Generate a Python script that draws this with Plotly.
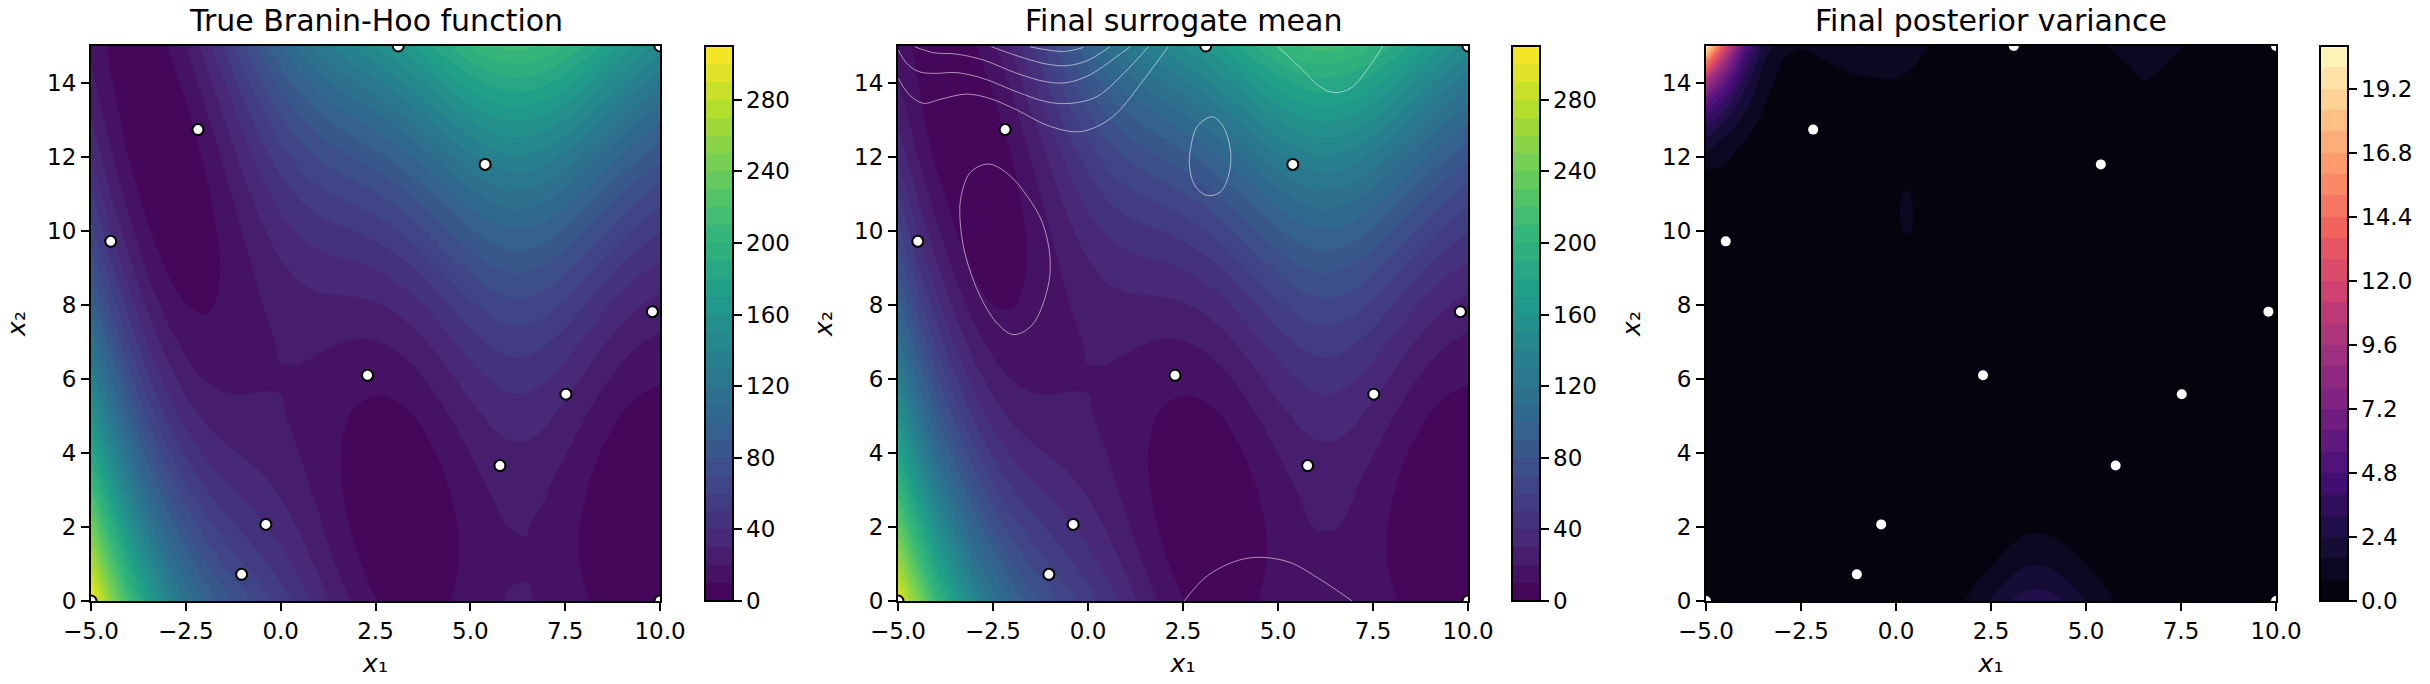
import numpy as np
import plotly.graph_objects as go

FONT = "DejaVu Sans"
W, H = 2430, 684

# grid of the two function panels, one list per x1 column
X1 = [-5, -4.5, -4, -3.5, -3, -2.5, -2, -1.5, -1, -0.5, 0, 0.5, 1, 1.5, 2, 2.5, 3, 3.5, 4, 4.5, 5, 5.5, 6, 6.5, 7, 7.5, 8, 8.5, 9, 9.5, 10]
X2 = [0, 1, 2, 3, 4, 5, 6, 7, 8, 9, 10, 11, 12, 13, 14, 15]

TRUE_COLS = [
    [308.1, 274.7, 243.4, 214.0, 186.6, 161.2, 137.9, 116.5, 97.1, 79.8, 64.4, 51.0, 39.6, 30.3, 22.9, 17.5],
    [256.9, 226.4, 197.8, 171.3, 146.7, 124.1, 103.6, 85.0, 68.5, 53.9, 41.4, 30.8, 22.2, 15.7, 11.1, 8.6],
    [212.0, 184.2, 158.3, 134.4, 112.6, 92.7, 74.8, 59.0, 45.1, 33.2, 23.4, 15.5, 9.6, 5.8, 3.9, 4.0],
    [174.0, 148.7, 125.4, 104.1, 84.8, 67.5, 52.2, 38.9, 27.6, 18.2, 10.9, 5.6, 2.3, 1.0, 1.7, 4.4],
    [143.0, 120.1, 99.2, 80.4, 63.5, 48.6, 35.7, 24.9, 16.0, 9.1, 4.2, 1.4, 0.5, 1.6, 4.8, 9.9],
    [118.6, 98.1, 79.5, 62.9, 48.4, 35.8, 25.2, 16.6, 10.1, 5.5, 2.9, 2.4, 3.8, 7.2, 12.6, 20.1],
    [100.1, 81.7, 65.3, 50.9, 38.5, 28.1, 19.7, 13.3, 8.9, 6.5, 6.1, 7.7, 11.3, 16.9, 24.5, 34.1],
    [86.0, 69.6, 55.3, 42.9, 32.6, 24.2, 17.8, 13.5, 11.1, 10.8, 12.4, 16.1, 21.7, 29.4, 39.0, 50.6],
    [74.8, 60.4, 47.9, 37.5, 29.0, 22.6, 18.1, 15.7, 15.3, 16.8, 20.4, 25.9, 33.5, 43.0, 54.6, 68.2],
    [65.0, 52.4, 41.7, 33.1, 26.4, 21.8, 19.1, 18.5, 19.8, 23.1, 28.5, 35.8, 45.2, 56.5, 69.9, 85.2],
    [55.6, 44.6, 35.6, 28.6, 23.6, 20.6, 19.6, 20.6, 23.6, 28.6, 35.6, 44.6, 55.6, 68.6, 83.6, 100.6],
    [45.8, 36.4, 28.9, 23.4, 20.0, 18.5, 19.0, 21.5, 26.1, 32.6, 41.1, 51.7, 64.2, 78.7, 95.2, 113.8],
    [35.8, 27.7, 21.6, 17.6, 15.5, 15.4, 17.3, 21.2, 27.2, 35.1, 45.0, 57.0, 70.9, 86.8, 104.7, 124.6],
    [25.9, 19.1, 14.3, 11.5, 10.7, 11.9, 15.1, 20.3, 27.5, 36.6, 47.8, 61.0, 76.2, 93.4, 112.6, 133.8],
    [17.1, 11.5, 7.8, 6.1, 6.4, 8.8, 13.1, 19.4, 27.8, 38.1, 50.4, 64.8, 81.1, 99.4, 119.8, 142.1],
    [10.3, 5.6, 3.0, 2.3, 3.7, 7.0, 12.4, 19.7, 29.1, 40.4, 53.7, 69.1, 86.4, 105.8, 127.1, 150.5],
    [6.2, 2.4, 0.6, 0.9, 3.1, 7.3, 13.5, 21.8, 32.0, 44.2, 58.4, 74.7, 92.9, 113.1, 135.3, 159.6],
    [5.1, 2.0, 1.0, 2.0, 5.0, 9.9, 16.9, 25.9, 36.9, 49.8, 64.8, 81.8, 100.7, 121.7, 144.7, 169.7],
    [6.6, 4.2, 3.8, 5.4, 9.0, 14.6, 22.2, 31.8, 43.4, 57.0, 72.6, 90.2, 109.8, 131.4, 155.0, 180.6],
    [10.1, 8.2, 8.3, 10.4, 14.5, 20.5, 28.6, 38.7, 50.8, 64.9, 81.0, 99.1, 119.2, 141.3, 165.4, 191.5],
    [14.3, 12.8, 13.3, 15.7, 20.2, 26.6, 35.1, 45.5, 58.0, 72.4, 88.9, 107.3, 127.8, 150.2, 174.7, 201.1],
    [18.1, 16.8, 17.5, 20.2, 24.9, 31.6, 40.3, 51.0, 63.7, 78.4, 95.1, 113.7, 134.4, 157.1, 181.8, 208.5],
    [20.4, 19.2, 20.0, 22.8, 27.6, 34.4, 43.2, 54.0, 66.8, 81.6, 98.4, 117.2, 138.0, 160.8, 185.6, 212.4],
    [20.6, 19.4, 20.2, 22.9, 27.7, 34.5, 43.3, 54.0, 66.8, 81.6, 98.4, 117.1, 137.9, 160.7, 185.5, 212.2],
    [18.6, 17.3, 17.9, 20.5, 25.1, 31.8, 40.4, 51.0, 63.6, 78.2, 94.9, 113.5, 134.1, 156.7, 181.4, 208.0],
    [15.1, 13.4, 13.8, 16.1, 20.5, 26.8, 35.1, 45.5, 57.8, 72.2, 88.5, 106.9, 127.2, 149.5, 173.9, 200.2],
    [11.0, 8.9, 8.8, 10.7, 14.7, 20.6, 28.5, 38.5, 50.4, 64.3, 80.3, 98.2, 118.1, 140.0, 164.0, 189.9],
    [7.5, 4.9, 4.3, 5.6, 9.0, 14.4, 21.8, 31.2, 42.6, 56.0, 71.4, 88.7, 108.1, 129.5, 152.9, 178.3],
    [5.8, 2.6, 1.3, 2.0, 4.7, 9.4, 16.2, 24.9, 35.6, 48.3, 63.0, 79.7, 98.5, 119.2, 141.9, 166.6],
    [6.9, 2.8, 0.7, 0.6, 2.6, 6.5, 12.4, 20.3, 30.2, 42.2, 56.1, 72.0, 89.9, 109.8, 131.7, 155.7],
    [11.0, 6.0, 2.9, 1.9, 2.9, 5.9, 10.9, 17.9, 26.9, 37.9, 50.9, 65.9, 82.9, 101.9, 122.8, 145.8],
]

MEAN_COLS = [
    [298.0, 264.0, 234.0, 206.0, 180.0, 156.0, 133.0, 113.0, 94.5, 78.0, 63.5, 50.0, 38.0, 28.0, 20.0, 15.0],
    [251.0, 221.0, 193.0, 167.0, 143.0, 121.0, 101.0, 83.0, 66.5, 52.5, 40.0, 29.5, 20.5, 14.0, 10.5, 8.0],
    [207.0, 179.0, 154.0, 131.0, 109.0, 90.0, 73.0, 58.0, 44.0, 32.5, 22.5, 14.5, 8.0, 4.5, 3.0, 3.2],
    [173.0, 148.0, 125.0, 104.0, 84.5, 67.0, 52.0, 38.5, 27.0, 17.8, 10.5, 5.3, 2.2, 0.9, 1.5, 3.8],
    [142.0, 119.0, 98.5, 80.0, 63.0, 48.0, 35.5, 24.5, 15.5, 8.5, 3.8, 1.0, 0.5, 1.2, 4.0, 8.5],
    [118.0, 97.8, 79.3, 62.8, 48.2, 35.7, 25.0, 16.6, 10.0, 5.6, 2.7, 2.1, 3.3, 6.5, 11.5, 18.0],
    [99.5, 81.5, 65.0, 51.0, 38.5, 28.0, 19.7, 13.5, 9.6, 7.2, 5.5, 6.5, 10.0, 15.0, 22.0, 31.0],
    [85.8, 69.3, 55.3, 42.9, 32.6, 24.2, 17.8, 13.5, 11.2, 10.8, 12.0, 15.4, 20.5, 27.7, 37.5, 49.0],
    [74.5, 60.0, 48.0, 37.5, 29.0, 22.6, 18.0, 15.7, 15.3, 16.8, 20.0, 25.0, 32.0, 41.0, 52.5, 66.0],
    [64.7, 52.2, 41.7, 33.1, 26.4, 21.8, 19.1, 18.5, 19.8, 23.0, 28.0, 35.0, 44.0, 55.0, 68.0, 83.5],
    [55.0, 44.3, 35.6, 28.6, 23.6, 20.6, 19.6, 20.6, 23.6, 28.5, 35.5, 44.0, 54.5, 67.0, 82.0, 99.0],
    [45.8, 36.4, 28.9, 23.4, 20.0, 18.5, 19.0, 21.5, 26.1, 32.6, 41.1, 51.7, 64.2, 78.7, 95.2, 113.8],
    [35.8, 27.7, 21.6, 17.6, 15.5, 15.4, 17.3, 21.2, 27.2, 35.1, 45.0, 57.0, 70.9, 86.8, 104.7, 124.6],
    [25.9, 19.1, 14.3, 11.5, 10.7, 11.9, 15.1, 20.3, 27.5, 36.6, 47.8, 61.0, 76.2, 93.4, 112.6, 133.8],
    [17.1, 11.5, 7.8, 6.1, 6.4, 8.8, 13.1, 19.4, 27.8, 38.1, 50.4, 64.8, 81.1, 99.4, 119.8, 142.1],
    [10.3, 5.6, 3.0, 2.3, 3.7, 7.0, 12.4, 19.7, 29.1, 40.4, 53.7, 69.1, 86.4, 105.8, 127.1, 150.5],
    [6.2, 2.4, 0.6, 0.9, 3.1, 7.3, 13.5, 21.8, 32.0, 44.2, 58.4, 74.7, 92.9, 113.1, 135.3, 159.6],
    [5.1, 2.0, 1.0, 2.0, 5.0, 9.9, 16.9, 25.9, 36.9, 49.8, 64.8, 81.8, 100.7, 121.7, 144.7, 169.7],
    [6.6, 4.2, 3.8, 5.4, 9.0, 14.6, 22.2, 31.8, 43.4, 57.0, 72.6, 90.2, 109.8, 131.4, 155.0, 180.6],
    [10.1, 8.2, 8.3, 10.4, 14.5, 20.5, 28.6, 38.7, 50.8, 64.9, 81.0, 99.1, 119.2, 141.3, 165.4, 192.5],
    [14.3, 12.8, 13.3, 15.7, 20.2, 26.6, 35.1, 45.5, 58.0, 72.4, 88.9, 107.3, 127.8, 150.2, 174.7, 203.0],
    [18.1, 16.8, 17.5, 20.2, 24.9, 31.6, 40.3, 51.0, 63.7, 78.4, 95.1, 113.7, 134.4, 157.1, 182.0, 209.5],
    [19.6, 19.0, 20.1, 22.8, 27.6, 34.4, 43.2, 54.0, 66.8, 81.6, 98.4, 117.2, 138.0, 160.8, 186.0, 213.0],
    [19.7, 19.2, 20.1, 22.9, 27.7, 34.5, 43.3, 54.0, 66.8, 81.6, 98.4, 117.1, 137.9, 160.7, 185.5, 213.0],
    [18.6, 17.3, 17.9, 20.5, 25.1, 31.8, 40.4, 51.0, 63.6, 78.2, 94.9, 113.5, 134.1, 156.7, 181.4, 209.0],
    [15.1, 13.4, 13.8, 16.1, 20.5, 26.8, 35.1, 45.5, 57.8, 72.2, 88.5, 106.9, 127.2, 149.5, 173.9, 201.0],
    [11.0, 8.9, 8.8, 10.7, 14.7, 20.6, 28.5, 38.5, 50.4, 64.3, 80.3, 98.2, 118.1, 140.0, 164.0, 189.9],
    [7.5, 4.9, 4.3, 5.6, 9.0, 14.4, 21.8, 31.2, 42.6, 56.0, 71.4, 88.7, 108.1, 129.5, 152.9, 178.3],
    [5.8, 2.6, 1.3, 2.0, 4.7, 9.4, 16.2, 24.9, 35.6, 48.3, 63.0, 79.7, 98.5, 119.2, 141.9, 166.6],
    [6.9, 2.8, 0.7, 0.6, 2.6, 6.5, 12.4, 20.3, 30.2, 42.2, 56.1, 72.0, 89.9, 109.8, 131.7, 155.7],
    [11.0, 6.0, 2.9, 1.9, 2.9, 5.9, 10.9, 17.9, 26.9, 37.9, 50.9, 65.9, 82.9, 101.9, 122.8, 145.8],
]

# variance panel uses its own uneven grid, one list per x2 row
VAR_X1 = [-5, -4.5, -4, -3.5, -3, -2.5, -2, -1, 0, 0.3, 0.6, 1, 1.5, 2, 2.5, 3, 3.5, 4, 4.5, 5, 5.5, 6, 6.5, 7, 7.5, 8, 10]
VAR_X2 = [0, 0.5, 1, 1.5, 2, 2.5, 9.5, 10, 10.5, 11, 11.5, 12, 12.5, 13, 13.5, 14, 14.5, 15]
VAR_ROWS = [
    [.2, .2, .2, .2, .2, .2, .2, .2, .2, .2, .2, .3, .6, .95, 1.7, 2.4, 2.85, 2.85, 2.3, 1.6, 1.05, .6, .3, .2, .2, .2, .2],
    [.1, .1, .1, .1, .1, .1, .1, .1, .1, .1, .1, .2, .4, .7, 1.15, 1.75, 2.1, 2.0, 1.65, 1.15, .75, .4, .2, .1, .1, .1, .1],
    [.1, .1, .1, .1, .1, .1, .1, .1, .1, .1, .1, .1, .2, .45, .75, 1.2, 1.55, 1.5, 1.15, .8, .45, .2, .1, .1, .1, .1, .1],
    [.1, .1, .1, .1, .1, .1, .1, .1, .1, .1, .1, .1, .1, .2, .45, .8, 1.05, 1.0, .8, .45, .2, .1, .1, .1, .1, .1, .1],
    [.1, .1, .1, .1, .1, .1, .1, .1, .1, .1, .1, .1, .1, .1, .2, .4, .65, .65, .4, .2, .1, .05, .05, .05, .05, .05, .05],
    [.1, .1, .1, .1, .1, .1, .1, .1, .1, .1, .1, .1, .1, .1, .1, .1, .1, .1, .1, .1, .1, .05, .05, .05, .05, .05, .05],
    [.1, .1, .1, .1, .1, .1, .1, .1, .2, .6, .2, .1, .1, .1, .1, .1, .1, .1, .1, .1, .1, .1, .1, .1, .1, .1, .1],
    [.1, .1, .1, .1, .1, .1, .1, .2, .72, .85, .68, .2, .1, .1, .1, .1, .1, .1, .1, .1, .1, .1, .1, .1, .1, .1, .1],
    [.2, .15, .1, .1, .1, .1, .1, .2, .75, .9, .7, .2, .1, .1, .1, .1, .1, .1, .1, .1, .1, .1, .1, .1, .1, .1, .1],
    [.4, .3, .15, .1, .1, .1, .1, .2, .72, .85, .68, .2, .1, .1, .1, .1, .1, .1, .1, .1, .1, .1, .1, .1, .1, .1, .1],
    [.6, .6, .3, .1, .1, .1, .1, .1, .3, .6, .3, .1, .1, .1, .1, .1, .1, .1, .1, .1, .1, .1, .1, .1, .1, .1, .1],
    [1.3, .95, .5, .2, .1, .1, .1, .1, .1, .1, .1, .1, .1, .1, .1, .1, .1, .1, .1, .1, .1, .1, .1, .1, .1, .1, .1],
    [2.4, 1.5, .85, .4, .1, .1, .1, .1, .1, .1, .1, .1, .1, .1, .1, .1, .1, .1, .1, .1, .1, .1, .1, .1, .1, .1, .1],
    [3.9, 2.5, 1.4, .65, .2, .1, .1, .1, .1, .1, .1, .1, .1, .1, .1, .1, .1, .1, .1, .1, .1, .1, .1, .1, .1, .1, .1],
    [6.0, 3.8, 2.0, .9, .3, .2, .25, .3, .3, .25, .25, .2, .1, .1, .1, .1, .1, .1, .1, .1, .1, .15, .2, .15, .1, .1, .1],
    [9.5, 5.8, 2.8, 1.2, .5, .3, .45, .65, .7, .6, .5, .3, .2, .1, .1, .1, .1, .1, .1, .1, .25, .45, .78, .6, .3, .15, .1],
    [14.5, 8.5, 3.9, 1.6, .75, .55, .7, 1.0, 1.1, .95, .75, .4, .25, .2, .15, .15, .15, .15, .15, .2, .45, .75, .95, .85, .5, .3, .15],
    [20.5, 12.5, 5.6, 2.4, 1.0, .85, 1.0, 1.65, 1.4, 1.15, .95, .75, .4, .3, .25, .25, .25, .3, .35, .45, .75, 1.15, 1.3, 1.2, .85, .5, .2],
]

# sampled points
POINTS_X1 = [-5, 10, 10, 3.1, -2.18, 5.39, -4.48, 9.8, 2.29, 7.52, 5.78, -0.39, -1.03]
POINTS_X2 = [0, 0, 15, 15, 12.74, 11.8, 9.72, 7.82, 6.1, 5.59, 3.66, 2.07, 0.72]

# thin white contour lines over the surrogate mean
MEAN_LINES = [
    ([-1.53, -0.91, -0.56, -0.12], [14.98, 14.87, 14.86, 14.96]),
    ([-2.54, -1.79, -1.08, -0.56, -0.03, 0.58], [14.98, 14.71, 14.51, 14.47, 14.6, 14.98]),
    ([-4.56, -4.07, -3.45, -2.75, -1.87, -1.08, -0.56, 0.05, 0.75, 1.11],
     [14.98, 14.82, 14.78, 14.62, 14.26, 14.03, 14.01, 14.22, 14.71, 14.98]),
    ([-4.99, -4.77, -4.46, -4.07, -3.45, -2.75, -1.87, -1.08, -0.47, 0.23, 0.94, 1.59],
     [14.89, 14.53, 14.31, 14.26, 14.28, 14.12, 13.76, 13.49, 13.45, 13.63, 14.26, 14.98]),
    ([-4.99, -4.69, -4.33, -3.89, -3.19, -2.58, -1.87, -1.08, -0.3, 0.23, 0.75, 1.46, 2.11],
     [14.12, 13.67, 13.45, 13.56, 13.7, 13.58, 13.27, 12.86, 12.68, 12.82, 13.18, 14.08, 14.98]),
    ([-2.62, -3.1, -3.34, -3.37, -3.24, -2.83, -2.35, -1.95, -1.47, -1.06, -1.0, -1.2, -1.6, -2.08, -2.62],
     [11.81, 11.58, 10.93, 10.35, 9.4, 8.22, 7.46, 7.2, 7.46, 8.46, 9.28, 10.23, 10.94, 11.52, 11.81]),
    ([3.25, 2.87, 2.7, 2.67, 2.81, 3.14, 3.48, 3.69, 3.76, 3.62, 3.42, 3.25],
     [13.09, 12.82, 12.23, 11.76, 11.23, 10.96, 11.05, 11.47, 12.05, 12.7, 13.0, 13.09]),
    ([4.98, 5.59, 6.13, 6.5, 6.94, 7.42, 7.76], [15, 14.41, 13.88, 13.74, 13.88, 14.47, 15]),
    ([2.53, 3.14, 3.96, 4.57, 5.32, 6.13, 6.95], [0, 0.68, 1.1, 1.18, 1.04, 0.57, 0]),
]

TITLES = ["True Branin-Hoo function", "Final surrogate mean", "Final posterior variance"]
X_TICKS = [-5, -2.5, 0, 2.5, 5, 7.5, 10]
Y_TICKS = [0, 2, 4, 6, 8, 10, 12, 14]
MEAN_TICKS = [0, 40, 80, 120, 160, 200, 240, 280]
VAR_TICKS = [0, 2.4, 4.8, 7.2, 9.6, 12.0, 14.4, 16.8, 19.2]

VIRIDIS = ["#440154", "#482878", "#3e4989", "#31688e", "#26828e", "#1f9e89", "#35b779", "#6ece58", "#b5de2b", "#fde725"]
MAGMA = ["#000004", "#180f3d", "#440f76", "#721f81", "#9e2f7f", "#cd4071", "#f1605d", "#fd9668", "#feca8d", "#fcfdbf"]

# pixel boxes
AX_LEFT = [91, 898, 1706]
AX_RIGHT = [660, 1468, 2276]
CB_LEFT = [705, 1512, 2320]
AX_TOP, AX_BOTTOM = 46, 601


def add_contour(fig, n, x, y, z, colors, end, size, ticks, tickformat):
    fig.add_trace(go.Contour(
        x=x, y=y, z=z,
        xaxis=f"x{n + 1}", yaxis=f"y{n + 1}",
        colorscale=colors, zmin=0, zmax=end,
        autocontour=False,
        contours=dict(start=0, end=end, size=size, coloring="fill", showlines=False),
        line=dict(width=0, smoothing=1.0),
        hoverinfo="skip",
        colorbar=dict(
            x=CB_LEFT[n] / W, xanchor="left", xpad=0,
            y=(H - AX_BOTTOM) / H, yanchor="bottom", ypad=0,
            len=(AX_BOTTOM - AX_TOP) / H, lenmode="fraction",
            thickness=27.5, thicknessmode="pixels",
            outlinewidth=2, outlinecolor="black",
            ticks="outside", ticklen=8, tickwidth=2, tickcolor="black",
            tickvals=ticks, tickformat=tickformat,
            tickfont=dict(family=FONT, size=23, color="black"),
        ),
    ))


fig = go.Figure()
add_contour(fig, 0, X1, X2, np.array(TRUE_COLS).T.tolist(), VIRIDIS, 310, 10, MEAN_TICKS, "d")
add_contour(fig, 1, X1, X2, np.array(MEAN_COLS).T.tolist(), VIRIDIS, 310, 10, MEAN_TICKS, "d")
add_contour(fig, 2, VAR_X1, VAR_X2, VAR_ROWS, MAGMA, 20.8, 0.8, VAR_TICKS, ".1f")

for xs, ys in MEAN_LINES:
    fig.add_trace(go.Scatter(
        x=xs, y=ys, xaxis="x2", yaxis="y2", mode="lines",
        line=dict(color="rgba(255,255,255,0.55)", width=1, shape="spline"),
        hoverinfo="skip", showlegend=False,
    ))

for n in range(3):
    fig.add_trace(go.Scatter(
        x=POINTS_X1, y=POINTS_X2, xaxis=f"x{n + 1}", yaxis=f"y{n + 1}", mode="markers",
        marker=dict(color="white", size=11 if n < 2 else 10,
                    line=dict(color="black", width=2 if n < 2 else 0)),
        hoverinfo="skip", showlegend=False,
    ))

layout = dict(
    width=W, height=H, margin=dict(l=0, r=0, t=0, b=0, autoexpand=False),
    paper_bgcolor="white", plot_bgcolor="white", showlegend=False,
    font=dict(family=FONT, size=23, color="black"),
    annotations=[],
)
for n in range(3):
    axis_style = dict(
        showgrid=False, zeroline=False, showline=True, mirror=True,
        linecolor="black", linewidth=2,
        ticks="outside", ticklen=8, tickwidth=2, tickcolor="black",
        tickfont=dict(family=FONT, size=23, color="black"),
    )
    layout[f"xaxis{n + 1}"] = dict(
        axis_style, domain=[AX_LEFT[n] / W, AX_RIGHT[n] / W], range=[-5, 10],
        tickvals=X_TICKS, tickformat=".1f", anchor=f"y{n + 1}",
        title=dict(text="<i>x</i>₁", font=dict(size=25), standoff=12),
    )
    layout[f"yaxis{n + 1}"] = dict(
        axis_style, domain=[(H - AX_BOTTOM) / H, (H - AX_TOP) / H], range=[0, 15],
        tickvals=Y_TICKS, anchor=f"x{n + 1}",
        title=dict(text="<i>x</i>₂", font=dict(size=25), standoff=14),
    )
    layout["annotations"].append(dict(
        text=TITLES[n], xref="paper", yref="paper", showarrow=False,
        x=(AX_LEFT[n] + AX_RIGHT[n]) / 2 / W, xanchor="center",
        y=(H - 20) / H, yanchor="middle",
        font=dict(family=FONT, size=30, color="black"),
    ))

fig.update_layout(**layout)
fig.write_html("out.html", config={"displayModeBar": False}, post_script="document.body.style.margin='0';")
